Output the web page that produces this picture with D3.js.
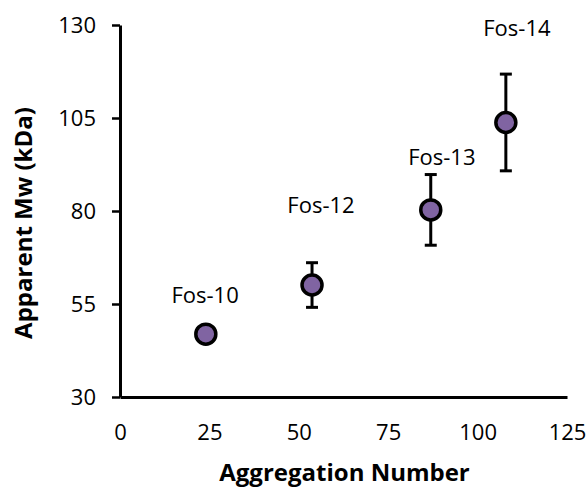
<!DOCTYPE html>
<html>
<head>
<meta charset="utf-8">
<script src="https://cdn.jsdelivr.net/npm/d3@7"></script>
<style>
  body { margin: 0; background: #fff; }
  text { font-family: "Open Sans", sans-serif; fill: #000; }
  .tick text { font-size: 22px; }
  .label { font-size: 24px; font-weight: bold; }
  .pt-label { font-size: 22px; }
</style>
</head>
<body>
<div id="chart"></div>
<script>
// data
const names = ["Fos-10", "Fos-12", "Fos-13", "Fos-14"];
const aggNumber = [24, 53.7, 86.9, 107.9];
const mw = [46.9, 60.1, 80.3, 103.8];
const mwErr = [0, 6, 9.5, 13];
const xTicks = [0, 25, 50, 75, 100, 125];
const yTicks = [30, 55, 80, 105, 130];
// label anchors in data units (baseline, centred)
const labelX = [23.8, 56.2, 90, 111];
const labelY = [55.3, 79.5, 92.4, 127];

const data = names.map((n, i) => ({ name: n, x: aggNumber[i], y: mw[i], err: mwErr[i], lx: labelX[i], ly: labelY[i] }));

const margin = {top: 25, right: 20, bottom: 90, left: 120};
const W = 587, H = 487;
const width = W - margin.left - margin.right;
const height = H - margin.top - margin.bottom;

const svg = d3.select("#chart")
  .append("svg")
    .attr("width", W)
    .attr("height", H)
  .append("g")
    .attr("transform", "translate(" + margin.left + "," + margin.top + ")");

const xScale = d3.scaleLinear().domain([0, 125]).range([0, width]);
const yScale = d3.scaleLinear().domain([30, 130]).range([height, 0]);

// x axis, no tick marks
const xAxis = svg.append("g")
    .attr("transform", "translate(0," + height + ")")
    .call(d3.axisBottom(xScale).tickValues(xTicks).tickSize(0).tickPadding(27));
xAxis.select(".domain").attr("stroke-width", 3);

// y axis, ticks outward
const yAxis = svg.append("g")
    .call(d3.axisLeft(yScale).tickValues(yTicks).tickSizeInner(8).tickSizeOuter(0).tickPadding(16));
yAxis.select(".domain").attr("stroke-width", 3);
yAxis.selectAll(".tick line").attr("stroke-width", 2.5);
svg.selectAll(".tick text").attr("font-family", null).attr("font-size", null);

// error bars
const eb = svg.selectAll(".err")
  .data(data.filter(d => d.err > 0))
  .enter().append("g")
    .attr("class", "err")
    .attr("stroke", "#000")
    .attr("stroke-width", 3);
eb.append("line")
    .attr("x1", d => xScale(d.x)).attr("x2", d => xScale(d.x))
    .attr("y1", d => yScale(d.y + d.err)).attr("y2", d => yScale(d.y - d.err));
eb.append("line")
    .attr("x1", d => xScale(d.x) - 6).attr("x2", d => xScale(d.x) + 6)
    .attr("y1", d => yScale(d.y + d.err)).attr("y2", d => yScale(d.y + d.err));
eb.append("line")
    .attr("x1", d => xScale(d.x) - 6).attr("x2", d => xScale(d.x) + 6)
    .attr("y1", d => yScale(d.y - d.err)).attr("y2", d => yScale(d.y - d.err));

// points
svg.selectAll(".pt")
  .data(data)
  .enter().append("circle")
    .attr("class", "pt")
    .attr("cx", d => xScale(d.x))
    .attr("cy", d => yScale(d.y))
    .attr("r", 10)
    .attr("fill", "#8064A2")
    .attr("stroke", "#000")
    .attr("stroke-width", 3.5);

// point labels
svg.selectAll(".pt-label")
  .data(data)
  .enter().append("text")
    .attr("class", "pt-label")
    .attr("x", d => xScale(d.lx))
    .attr("y", d => yScale(d.ly))
    .attr("text-anchor", "middle")
    .text(d => d.name);

// axis titles
svg.append("text")
    .attr("class", "label")
    .attr("x", width / 2 + 1)
    .attr("y", height + 84)
    .attr("text-anchor", "middle")
    .text("Aggregation Number");

svg.append("text")
    .attr("class", "label")
    .attr("transform", "rotate(-90)")
    .attr("x", -198)
    .attr("y", -88)
    .attr("text-anchor", "middle")
    .text("Apparent Mw (kDa)");
</script>
</body>
</html>
